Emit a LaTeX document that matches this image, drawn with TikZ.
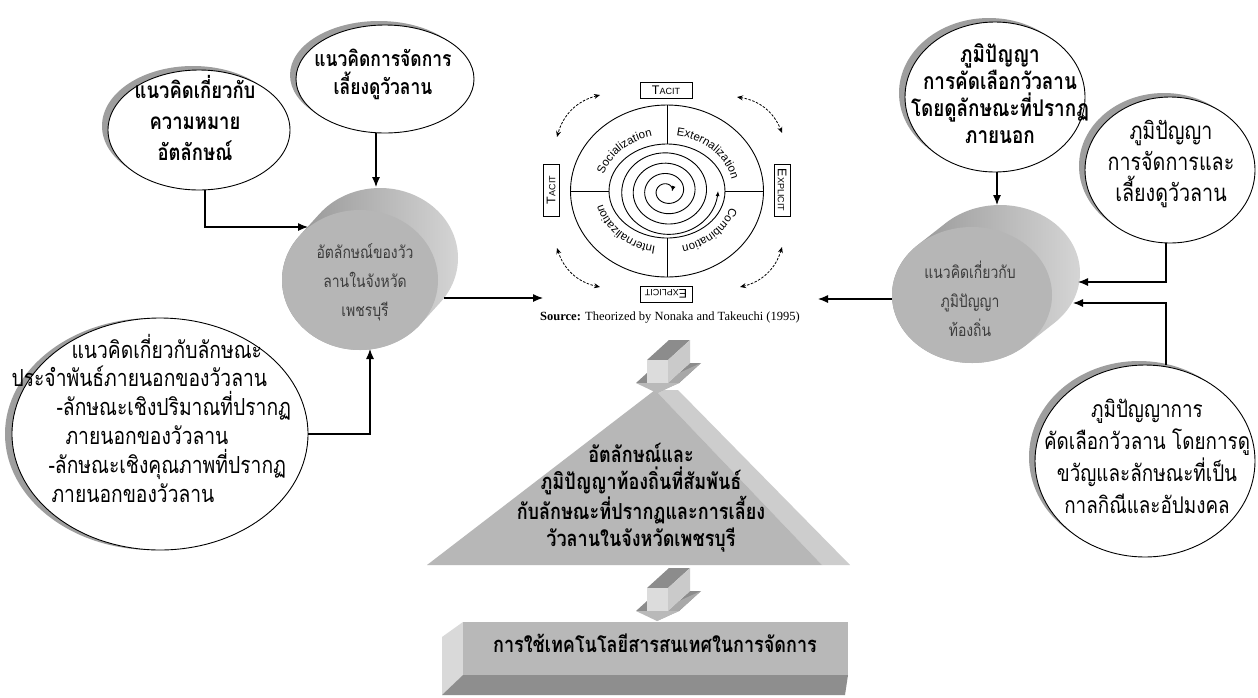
\documentclass[tikz,border=0pt]{standalone}
\usepackage{fontspec}
\setmainfont{Liberation Serif}
\newfontfamily\thai[Script=Thai, FakeStretch=0.82]{Loma}
\newfontfamily\arialf{Liberation Sans}
\usetikzlibrary{shapes.geometric,arrows.meta,shadows,decorations.text,calc}
\definecolor{cyltop}{HTML}{8E8E8E}
\definecolor{cylright}{HTML}{D8D8D8}
\definecolor{cylface}{HTML}{B6B6B6}
\definecolor{cyltext}{HTML}{3C3C3C}
\definecolor{pyrfront}{HTML}{B7B7B7}
\definecolor{pyrside}{HTML}{CDCDCD}
\definecolor{blkdark}{HTML}{8C8C8C}
\definecolor{blkmid}{HTML}{A8A8A8}
\definecolor{blklight}{HTML}{DCDCDC}
\definecolor{blkside}{HTML}{CACACA}
\definecolor{boxfront}{HTML}{B8B8B8}
\definecolor{boxleft}{HTML}{D9D9D9}
\definecolor{boxbottom}{HTML}{8E8E8E}
\newcommand\thR[2]{\thai\fontsize{#1}{#2}\selectfont}
\newcommand\thB[2]{\thai\bfseries\fontsize{#1}{#2}\selectfont}
\newcommand\splab{\arialf\fontsize{11.5}{13}\selectfont}
\newcommand\smc[2]{{\fontsize{12.5}{13}\selectfont #1}{\fontsize{9}{10}\selectfont #2}}
\newcommand\blkarrow{%
  \fill[blkdark] (636,-383) -- (647,-383) -- (669,-363) -- (658,-363) -- cycle;
  \fill[blkdark] (668,-383) -- (679,-383) -- (701,-363) -- (690,-363) -- cycle;
  \fill[blkmid] (679,-383) -- (657,-393) -- (679,-373) -- (701,-363) -- cycle;
  \fill[blkmid!80!white] (636,-383) -- (679,-383) -- (657,-393) -- cycle;
  \fill[blkdark] (647,-360) -- (668,-360) -- (690,-340) -- (669,-340) -- cycle;
  \fill[blkside] (668,-360) -- (690,-340) -- (690,-363) -- (668,-383) -- cycle;
  \fill[blklight] (647,-360) rectangle (668,-383);}
\tikzset{
  bub/.style={ellipse, draw=black, line width=0.9pt, fill=white, inner sep=0pt},
  shul/.style={drop shadow={shadow xshift=-6pt, shadow yshift=4pt, opacity=1, fill=black!38}},
  shl/.style={drop shadow={shadow xshift=-7pt, shadow yshift=0pt, opacity=1, fill=black!38}},
  arr/.style={line width=1.1pt, -{Latex[length=10pt,width=8pt]}},
  tbox/.style={draw=black, line width=0.8pt, fill=white, inner xsep=3pt, inner ysep=1.5pt, minimum width=52pt, minimum height=16pt, font=\arialf, drop shadow={shadow xshift=1.3pt, shadow yshift=-1.3pt, opacity=1, fill=black}},
  cycarr/.style={line width=0.8pt, dash pattern=on 2.5pt off 1.5pt, {Stealth[length=6pt,width=5pt]}-{Stealth[length=6pt,width=5pt]}},
  sptext/.style={decorate, decoration={text along path, text align=center, text={|\splab|#1}}},
  spline/.style={line width=0.9pt},
}
\begin{document}
\begin{tikzpicture}[x=1pt,y=1pt]
\fill[white] (0,0) rectangle (1258,-697);
\useasboundingbox (0,0) rectangle (1258,-697);

% ---------- left cylinder ----------
\shade[left color=cyltop, right color=cylright]
  ($(360,-280)+(-39.2:78 and 70)$) -- ++(20,22)
  arc[start angle=-39.2, end angle=140.8, x radius=78, y radius=70] -- ++(-20,-22)
  arc[start angle=140.8, end angle=320.8, x radius=78, y radius=70] -- cycle;
\fill[cylface] (360,-280) ellipse[x radius=78, y radius=70];
\node[font=\thR{17}{29}, align=center, text=cyltext] (lcT) at (365,-282) {อัตลักษณ์ของวัว\\ลานในจังหวัด\\เพชรบุรี};
\coordinate (lcyl-n) at (376,-187);
\coordinate (lcyl-w) at (308,-227);
\coordinate (lcyl-s) at (370,-349);
\coordinate (lcyl-e) at (444,-298);

% ---------- right cylinder ----------
\shade[left color=cyltop, right color=cylright]
  ($(972,-295)+(-47.3:80 and 68)$) -- ++(28,22)
  arc[start angle=-47.3, end angle=132.7, x radius=80, y radius=68] -- ++(-28,-22)
  arc[start angle=132.7, end angle=312.7, x radius=80, y radius=68] -- cycle;
\fill[cylface] (972,-295) ellipse[x radius=80, y radius=68];
\node[font=\thR{17}{29}, align=center, text=cyltext] (rcT) at (970,-299) {แนวคิดเกี่ยวกับ\\ภูมิปัญญา\\ท้องถิ่น};
\coordinate (rcyl-n) at (997,-205);
\coordinate (rcyl-w) at (892,-299);
\coordinate (rcyl-e1) at (1078,-282);
\coordinate (rcyl-e2) at (1073,-303);

% ---------- bubbles ----------
\node[bub, shul, minimum width=182pt, minimum height=120pt] (tl) at (199,-130) {};
\node[font=\thB{22.5}{31}, align=center] (tlT) at (195,-118) {แนวคิดเกี่ยวกับ\\ความหมาย\\อัตลักษณ์};

\node[bub, shul, minimum width=178pt, minimum height=108pt] (top) at (385,-79) {};
\node[font=\thB{21.3}{28}, align=center] (topT) at (383,-74) {แนวคิดการจัดการ\\เลี้ยงดูวัวลาน};

\node[bub, shl, minimum width=296pt, minimum height=232pt] (lb) at (160,-434) {};
\node[font=\thR{23.5}{28.8}, align=left, anchor=west] (lbT) at (8,-418)
  {\hspace*{60pt}แนวคิดเกี่ยวกับลักษณะ\\ประจำพันธ์ภายนอกของวัวลาน\\\hspace*{45pt}-ลักษณะเชิงปริมาณที่ปรากฏ\\\hspace*{54pt}ภายนอกของวัวลาน\\\hspace*{37pt}-ลักษณะเชิงคุณภาพที่ปรากฏ\\\hspace*{40pt}ภายนอกของวัวลาน};

\node[bub, shul, minimum width=180pt, minimum height=150pt] (r1) at (995,-97) {};
\node[font=\thB{23}{27}, align=center] (r1T) at (1000,-94) {ภูมิปัญญา\\การคัดเลือกวัวลาน\\โดยดูลักษณะที่ปรากฏ\\ภายนอก};

\node[bub, shul, minimum width=170pt, minimum height=146pt] (r2) at (1170,-170) {};
\node[font=\thR{24}{31}, align=center] (r2T) at (1171,-164) {ภูมิปัญญา\\การจัดการและ\\เลี้ยงดูวัวลาน};

\node[bub, shul, minimum width=220pt, minimum height=192pt] (r3) at (1145,-461) {};
\node[font=\thR{23}{32}, align=center] (r3T) at (1147,-456) {ภูมิปัญญาการ\\คัดเลือกวัวลาน โดยการดู\\ขวัญและลักษณะที่เป็น\\กาลกิณีและอัปมงคล};

% ---------- SECI spiral ----------
\draw[spline] (667,-191) ellipse[x radius=96.5, y radius=86];
\draw[spline] (667,-191) ellipse[x radius=58, y radius=47];
\draw[spline] (667,-105) -- (667,-144);
\draw[spline] (667,-238) -- (667,-277);
\draw[spline] (570.5,-191) -- (609,-191);
\draw[spline] (725,-191) -- (763.5,-191);
\draw[line width=0.9pt, {Latex[length=5pt,width=4pt]}-{Latex[length=5pt,width=4pt]}]
  plot[domain=360:1800, samples=260, smooth, variable=\t]
  ({667+(5+(\t-360)/360*11.5)*cos(\t)}, {-191+0.9*(5+(\t-360)/360*11.5)*sin(\t)});
\path[sptext=Socialization] ($(667,-191)+(177:66 and 56)$) arc[start angle=177, end angle=91, x radius=66, y radius=56];
\path[sptext=Externalization] ($(667,-191)+(89:66 and 56)$) arc[start angle=89, end angle=3, x radius=66, y radius=56];
\path[sptext=Combination] ($(667,-191)+(-3:66 and 56)$) arc[start angle=-3, end angle=-89, x radius=66, y radius=56];
\path[sptext=Internalization] ($(667,-191)+(-91:66 and 56)$) arc[start angle=-91, end angle=-177, x radius=66, y radius=56];
\node[tbox] (tacT) at (666,-90) {\smc{T}{ACIT}};
\node[tbox, rotate=90] (tacL) at (551,-190) {\smc{T}{ACIT}};
\node[tbox, rotate=-90] (expR) at (782,-190) {\smc{E}{XPLICIT}};
\node[tbox, rotate=180] (expB) at (666,-294) {\smc{E}{XPLICIT}};
\coordinate (c1a) at (600,-95);  \coordinate (c1b) at (557,-137);
\coordinate (c2a) at (737,-97);  \coordinate (c2b) at (782,-133);
\coordinate (c3a) at (782,-247); \coordinate (c3b) at (740,-287);
\coordinate (c4a) at (557,-248); \coordinate (c4b) at (600,-287);
\draw[cycarr] (c1a) to[bend right=30] (c1b);
\draw[cycarr] (c2a) to[bend left=30] (c2b);
\draw[cycarr] (c3a) to[bend left=30] (c3b);
\draw[cycarr] (c4a) to[bend right=30] (c4b);
\node[font=\fontsize{12.5}{14}\selectfont] (src) at (670,-318) {\textbf{Source:} Theorized by Nonaka and Takeuchi (1995)};
\coordinate (spw) at (543,-298);
\coordinate (spe) at (818,-299);

% ---------- pyramid, block arrows, bottom box ----------
\fill[pyrside] (655,-390) -- (678,-390) -- (850,-565) -- (822,-565) -- cycle;
\fill[pyrfront] (655,-390) -- (822,-565) -- (427,-565) -- cycle;
\node[font=\thB{22}{27}, align=center] (pyrT) at (641,-498) {อัตลักษณ์และ\\ภูมิปัญญาท้องถิ่นที่สัมพันธ์\\กับลักษณะที่ปรากฏและการเลี้ยง\\วัวลานในจังหวัดเพชรบุรี};
\blkarrow
\begin{scope}[yshift=-228pt]\blkarrow\end{scope}
\fill[boxleft] (463,-622) -- (442,-637) -- (442,-695) -- (463,-675) -- cycle;
\fill[boxbottom] (463,-675) -- (848,-675) -- (845,-695) -- (442,-695) -- cycle;
\fill[boxfront] (463,-622) rectangle (848,-675);
\node[font=\thB{22}{24}] (botT) at (655,-643) {การใช้เทคโนโลยีสารสนเทศในการจัดการ};

% ---------- connectors ----------
\coordinate (rv) at (1166,-250);
\draw[arr] ([xshift=6pt]tl.south) |- (lcyl-w);
\draw[arr] (top.south -| lcyl-n) -- (lcyl-n);
\draw[arr] (lb.east) -| (lcyl-s);
\draw[arr] (lcyl-e) -- (spw);
\draw[arr] (rcyl-w) -- (spe);
\draw[arr] (r1.south -| rcyl-n) -- (rcyl-n);
\draw[arr] (r2.south -| rv) |- (rcyl-e1);
\draw[arr] (r3.north -| rv) |- (rcyl-e2);
\end{tikzpicture}
\end{document}
